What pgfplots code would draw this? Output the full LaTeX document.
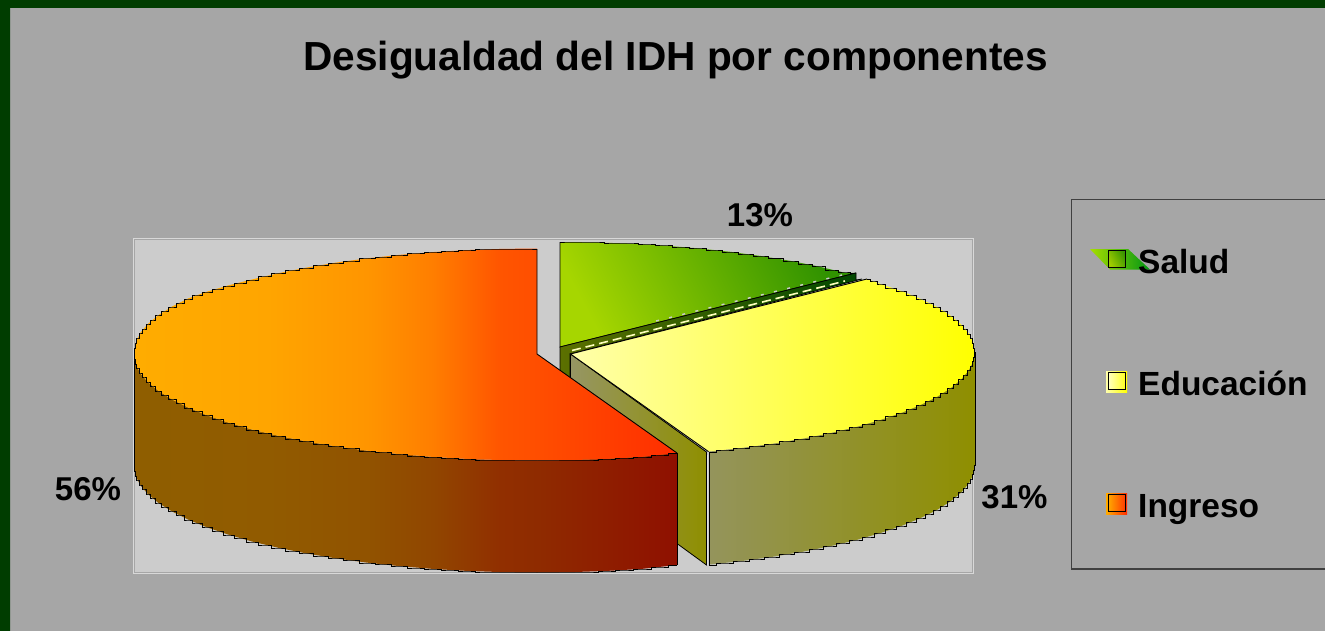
\documentclass[border=0pt]{standalone}
\usepackage{pgfplots}
\pgfplotsset{compat=1.18}
\usepackage{fontspec}
\setmainfont{Liberation Sans}
\definecolor{bgG}{HTML}{A6A6A6}
\definecolor{frameG}{HTML}{003D00}
\definecolor{plotG}{HTML}{CCCCCC}
\pgfdeclarehorizontalshading{orangeTop}{100bp}{rgb(0bp)=(1,.675,0); rgb(25bp)=(1,.675,0); rgb(37.25bp)=(1,.647,0); rgb(46.5bp)=(1,.584,0); rgb(52.5bp)=(1,.494,0); rgb(58.7bp)=(1,.333,0); rgb(62.1bp)=(1,.306,0); rgb(75bp)=(1,.18,0); rgb(100bp)=(1,.18,0)}
\pgfdeclarehorizontalshading{orangeWall}{100bp}{rgb(0bp)=(.56,.369,0); rgb(25bp)=(.56,.369,0); rgb(37.25bp)=(.57,.357,0); rgb(46.5bp)=(.57,.325,0); rgb(52.5bp)=(.57,.275,0); rgb(58.7bp)=(.57,.184,0); rgb(62.1bp)=(.56,.169,0); rgb(75bp)=(.56,.063,0); rgb(100bp)=(.56,.063,0)}
\tikzset{stair/.style={const plot mark mid, draw=black, line width=.8pt, line join=miter},
         edge/.style={draw=black, line width=.9pt}}
\begin{document}
\begin{tikzpicture}
\begin{axis}[
  axis lines=none, scale only axis, width=1325pt, height=631pt,
  xmin=0, xmax=1325, ymin=0, ymax=631, y dir=reverse,
  font=\bfseries]
% background
\addplot[fill=bgG, draw=none] coordinates {(0,0)(1325,0)(1325,631)(0,631)} -- cycle;
\addplot[fill=frameG, draw=none] coordinates {(0,0)(1325,0)(1325,8)(10,8)(10,631)(0,631)} -- cycle;
% plot area
\addplot[fill=plotG, draw={rgb,255:red,216;green,216;blue,216}, line width=1pt] coordinates {(133,238.5)(973.5,238.5)(973.5,573.5)(133,573.5)} -- cycle;
\addplot[draw={rgb,255:red,166;green,166;blue,166}, line width=1pt] coordinates {(134,239.7)(972.3,239.7)(972.3,572.3)(134,572.3)} -- cycle;
% green slice top
\addplot[left color={rgb,255:red,166;green,214;blue,0}, right color={rgb,255:red,48;green,146;blue,0}, shading angle=118, draw=none]
 coordinates {(560,347)(560,242)(595.1,242.4)(630,243.6)(664.3,245.6)(697.8,248.3)(730.3,251.8)(761.5,256.1)(791.2,261)(819,266.6)(845,272.8)(856,273)} -- cycle;
\addplot[stair] coordinates {(560,242)(578,242)(595,242)(613,243)(630,243)(647,244)(664,245)(681,247)(698,248)(714,250)(730,252)(746,254)(761,256)(776,258.5)(791,261)(805,264)(819,266)(832,270)(845,272)(856,273)};
\addplot[edge] coordinates {(856,273)(560,347)(560,242)};
% green inner wall
\addplot[left color={rgb,255:red,92;green,112;blue,0}, right color={rgb,255:red,0;green,72;blue,0}, draw=black, line width=.7pt]
 coordinates {(560,347)(856,273)(856,280)(862,279)(570,354)(570,382)(560,382)} -- cycle;
\addplot[draw=plotG, line width=1.4pt, dash pattern=on 3pt off 10.5pt] coordinates {(656,321)(842,275)};
\addplot[draw={rgb,255:red,255;green,255;blue,190}, line width=1.6pt, dash pattern=on 9pt off 5pt] coordinates {(572,350.5)(845,281)};
% yellow left wall
\addplot[left color={rgb,255:red,150;green,150;blue,100}, right color={rgb,255:red,143;green,143;blue,0}, draw=black, line width=.8pt]
 coordinates {(570.5,354)(706.5,452)(706.5,565)(570.5,466)} -- cycle;
% yellow top
\addplot[left color={rgb,255:red,255;green,255;blue,170}, middle color={rgb,255:red,255;green,255;blue,108}, right color={rgb,255:red,255;green,255;blue,0}, draw=none]
 coordinates {(570.5,354)(867,279)(880.2,283.9)(901.8,291.2)(920.7,299)(937.2,307.2)(950.6,315.7)(961.3,324.6)(968.8,333.6)(973.5,342.8)(975,352)(973.5,361.2)(968.8,370.4)(961.3,379.4)(950.6,388.3)(937.2,396.8)(920.7,405)(901.8,412.8)(880.2,420.1)(856.4,427)(830.3,433.2)(802.3,438.8)(772.5,443.8)(741.2,448.1)(708.5,451.6)} -- cycle;
\addplot[edge] coordinates {(708.5,451.6)(570.5,354)(867,279)};
% yellow front wall
\addplot[left color={rgb,255:red,148;green,148;blue,92}, right color={rgb,255:red,143;green,143;blue,0}, draw=none]
 coordinates {(975,352)(973.5,361.2)(968.8,370.4)(961.3,379.4)(950.6,388.3)(937.2,396.8)(920.7,405)(901.8,412.8)(880.2,420.1)(856.4,427)(830.3,433.2)(802.3,438.8)(772.5,443.8)(741.2,448.1)(709,451.6)(709,564.6)(741.2,561.1)(772.5,556.8)(802.3,551.8)(830.3,546.2)(856.4,540)(880.2,533.1)(901.8,525.8)(920.7,518)(937.2,509.8)(950.6,501.3)(961.3,492.4)(968.8,483.4)(973.5,474.2)(975,465)} -- cycle;
\addplot[stair] coordinates {(867,279)(874,281)(880,284)(891,288)(902,291)(911,295)(921,299)(929,303)(937,307)(944,311)(951,316)(956,320)(961,325)(965,329)(969,334)(971,338)(973.5,343)(974,348)(975,352)};
\addplot[stair] coordinates {(975,352)(974,357)(973.5,361)(971,366)(969,370)(965,375)(961,379)(956,384)(951,388)(944,393)(937,397)(929,401)(921,405)(911,409)(902,413)(891,416)(880,420)(868,424)(856,427)(843,430)(830,433)(816,436)(802,439)(787,441)(772.5,444)(757,446)(741,448)(725,450)(708.5,452)};
\addplot[stair] coordinates {(975,465)(974,470)(973.5,474)(971,479)(969,483)(965,488)(961,492)(956,497)(951,501)(944,506)(937,510)(929,514)(921,518)(911,522)(902,526)(891,529)(880,533)(868,537)(856,540)(843,543)(830,546)(816,549)(802,552)(787,554)(772.5,557)(757,559)(741,561)(725,563)(708.5,565)};
\addplot[edge] coordinates {(975,352)(975,465)};
\addplot[edge, line width=.7pt] coordinates {(709.3,452)(709.3,564.6)};
\addplot[draw={rgb,255:red,225;green,225;blue,225}, line width=1.3pt] coordinates {(707.8,455)(707.8,565)};
% orange wall
\addplot[shade, shading=orangeWall, draw=none]
 coordinates {(134,354.5)(135.5,363.7)(140.1,372.9)(147.7,381.9)(158.3,390.8)(171.8,399.3)(188,407.5)(206.9,415.3)(228.3,422.6)(252,429.5)(278,435.7)(305.8,441.3)(335.5,446.3)(366.7,450.6)(399.2,454.1)(432.7,456.9)(467,458.9)(501.9,460.1)(537,460.5)(572.1,460.1)(607,458.9)(641.7,456.9)(677,453)(677,565)(641.7,568.9)(607,570.9)(572.1,572.1)(537,572.5)(501.9,572.1)(467,570.9)(432.7,568.9)(399.2,566.1)(366.7,562.6)(335.5,558.3)(305.8,553.3)(278,547.7)(252,541.5)(228.3,534.6)(206.9,527.3)(188,519.5)(171.8,511.3)(158.3,502.8)(147.7,493.9)(140.1,484.9)(135.5,475.7)(134,466.5)} -- cycle;
\addplot[stair] coordinates {(134,467)(135,471)(135.5,476)(138,480)(140,485)(144,489)(148,494)(153,498)(158,503)(165,507)(172,511)(180,515)(188,520)(197,523)(207,527)(218,531)(228,535)(240,538)(252,542)(265,545)(278,548)(292,551)(306,553)(321,556)(335.5,558)(351,560)(367,563)(383,564)(399,566)(416,568)(433,569)(450,570)(467,571)(484,572)(502,572)(519,572)(537,572)(554,572)(572,572)(589,572)(607,571)(624,570)(642,569)(660,567)(677,565)};
\addplot[edge] coordinates {(134,354.5)(134,466.5)};
\addplot[edge] coordinates {(677,453)(677,565)};
% orange top
\addplot[shade, shading=orangeTop, draw=none]
 coordinates {(537,354)(537,248.5)(501.9,248.9)(467,250.1)(432.7,252.1)(399.2,254.9)(366.7,258.4)(335.5,262.7)(305.8,267.7)(278,273.3)(252,279.5)(228.3,285.4)(206.9,291.7)(188,298.5)(171.8,306.7)(158.3,315.2)(147.7,324.1)(140.1,333.1)(135.5,343.3)(134,354.5)(135.5,363.7)(140.1,372.9)(147.7,381.9)(158.3,390.8)(171.8,399.3)(188,407.5)(206.9,415.3)(228.3,422.6)(252,429.5)(278,435.7)(305.8,441.3)(335.5,446.3)(366.7,450.6)(399.2,454.1)(432.7,456.9)(467,458.9)(501.9,460.1)(537,460.5)(572.1,460.1)(607,458.9)(641.7,456.9)(677,453)} -- cycle;
\addplot[stair] coordinates {(537,249)(519,249)(502,249)(484,249)(467,250)(450,251)(433,252)(416,253)(399,255)(383,257)(367,258)(351,261)(335.5,263)(321,265)(306,268)(292,270)(278,273)(265,276)(252,280)(240,283)(228,286)(218,289)(207,292)(197,295)(188,299)(180,303)(172,307)(165,311)(158,315)(153,320)(148,324)(144,329)(140,333)(138,338)(135.5,343)(135,348)(134,354)};
\addplot[stair] coordinates {(134,355)(135,359)(135.5,364)(138,368)(140,373)(144,377)(148,382)(153,386)(158,391)(165,395)(172,399)(180,403)(188,408)(197,411)(207,415)(218,419)(228,423)(240,426)(252,430)(265,433)(278,436)(292,439)(306,441)(321,444)(335.5,446)(351,448)(367,451)(383,452)(399,454)(416,456)(433,457)(450,458)(467,459)(484,460)(502,460)(519,460)(537,460)(554,460)(572,460)(589,460)(607,459)(624,458)(642,457)(660,455)(677,453)};
\addplot[edge] coordinates {(537,249)(537,354)(677,453)};
% legend box
\addplot[draw={rgb,255:red,64;green,64;blue,64}, line width=1.3pt] coordinates {(1326,199.5)(1071.5,199.5)(1071.5,569)(1326,569)};
% legend swatches
\addplot[left color={rgb,255:red,166;green,222;blue,0}, right color={rgb,255:red,0;green,150;blue,20}, draw=none]
 coordinates {(1090,249)(1128,249)(1150,269.5)(1110,269.5)} -- cycle;
\addplot[left color={rgb,255:red,160;green,204;blue,0}, right color={rgb,255:red,60;green,150;blue,0}, shading angle=120, draw=black, line width=.9pt]
 coordinates {(1108.5,250.5)(1125.5,250.5)(1125.5,267.5)(1108.5,267.5)} -- cycle;
\addplot[left color={rgb,255:red,255;green,255;blue,170}, right color={rgb,255:red,255;green,255;blue,0}, draw=none]
 coordinates {(1106,371)(1127,371)(1127,392)(1106,392)} -- cycle;
\addplot[left color={rgb,255:red,255;green,255;blue,190}, right color={rgb,255:red,255;green,255;blue,30}, draw=black, line width=.9pt]
 coordinates {(1108.5,372.5)(1125.5,372.5)(1125.5,389.5)(1108.5,389.5)} -- cycle;
\addplot[left color={rgb,255:red,255;green,172;blue,0}, right color={rgb,255:red,255;green,44;blue,0}, draw=none]
 coordinates {(1106,493)(1127,493)(1127,514)(1106,514)} -- cycle;
\addplot[left color={rgb,255:red,255;green,165;blue,0}, right color={rgb,255:red,255;green,60;blue,0}, draw=black, line width=.9pt]
 coordinates {(1108.5,494.5)(1125.5,494.5)(1125.5,511.5)(1108.5,511.5)} -- cycle;
% text
\node[anchor=base, font=\bfseries\fontsize{40.6}{40.6}\selectfont] at (axis cs:675.5,70.5) {Desigualdad del IDH por componentes};
\node[anchor=base, font=\bfseries\fontsize{33}{33}\selectfont] at (axis cs:760,226) {13\%};
\node[anchor=base, font=\bfseries\fontsize{33}{33}\selectfont] at (axis cs:88,500) {56\%};
\node[anchor=base, font=\bfseries\fontsize{33}{33}\selectfont] at (axis cs:1014.5,508) {31\%};
\node[anchor=base west, inner sep=0pt, font=\bfseries\fontsize{33.5}{33.5}\selectfont] at (axis cs:1138,273) {Salud};
\node[anchor=base west, inner sep=0pt, font=\bfseries\fontsize{33.5}{33.5}\selectfont] at (axis cs:1138,395) {Educación};
\node[anchor=base west, inner sep=0pt, font=\bfseries\fontsize{33.5}{33.5}\selectfont] at (axis cs:1138,517) {Ingreso};
\end{axis}
\end{tikzpicture}
\end{document}
